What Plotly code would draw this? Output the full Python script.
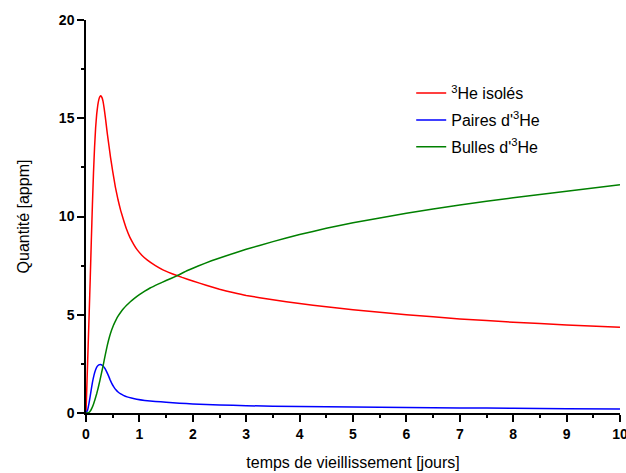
import plotly.graph_objects as go

# temps de vieillissement [jours]
x_iso = [0, 0.02, 0.04, 0.06, 0.08, 0.10, 0.12, 0.14, 0.16, 0.18, 0.20, 0.22, 0.24, 0.26, 0.28,
         0.30, 0.32, 0.34, 0.36, 0.38, 0.40, 0.43, 0.46, 0.50, 0.55, 0.60, 0.65, 0.70, 0.76,
         0.82, 0.89, 0.96, 1.05, 1.15, 1.3, 1.45, 1.6, 1.8, 2, 2.25, 2.5, 2.75, 3, 3.5, 4, 4.5,
         5, 6, 7, 8, 9, 10]
y_iso = [0, 1.7, 3.4, 5.1, 6.9, 8.8, 10.6, 12.2, 13.5, 14.5, 15.2, 15.65, 15.95, 16.1, 16.15,
         16.05, 15.85, 15.5, 15.1, 14.65, 14.2, 13.6, 13.0, 12.3, 11.5, 10.85, 10.3, 9.85, 9.35,
         8.95, 8.6, 8.3, 8.02, 7.78, 7.5, 7.27, 7.1, 6.9, 6.72, 6.5, 6.3, 6.13, 5.98, 5.76, 5.57,
         5.41, 5.26, 5.0, 4.79, 4.62, 4.48, 4.37]

x_paires = [0, 0.03, 0.06, 0.09, 0.12, 0.15, 0.18, 0.21, 0.24, 0.27, 0.30, 0.33, 0.36, 0.39,
            0.42, 0.45, 0.48, 0.52, 0.56, 0.6, 0.65, 0.7, 0.77, 0.85, 0.95, 1.1, 1.3, 1.5, 1.75,
            2, 2.5, 3, 4, 5, 6, 7, 8, 9, 10]
y_paires = [0, 0.15, 0.55, 1.05, 1.55, 1.93, 2.2, 2.37, 2.45, 2.47, 2.44, 2.36, 2.24, 2.08,
            1.9, 1.7, 1.52, 1.33, 1.18, 1.07, 0.97, 0.9, 0.82, 0.76, 0.7, 0.64, 0.59, 0.55, 0.5,
            0.46, 0.41, 0.37, 0.33, 0.3, 0.28, 0.26, 0.24, 0.22, 0.2]

x_bulles = [0, 0.05, 0.08, 0.11, 0.14, 0.17, 0.2, 0.23, 0.26, 0.29, 0.32, 0.36, 0.4, 0.44, 0.48,
            0.52, 0.56, 0.6, 0.65, 0.7, 0.76, 0.83, 0.9, 1.0, 1.1, 1.2, 1.35, 1.5, 1.7, 1.9, 2.1,
            2.35, 2.6, 3, 3.5, 4, 4.5, 5, 6, 7, 8, 9, 10]
y_bulles = [0, 0.02, 0.1, 0.25, 0.45, 0.7, 0.98, 1.3, 1.65, 2.03, 2.4, 2.95, 3.45, 3.88, 4.22,
            4.5, 4.73, 4.93, 5.13, 5.3, 5.48, 5.66, 5.82, 6.02, 6.2, 6.36, 6.56, 6.74, 6.98, 7.25,
            7.48, 7.75, 7.98, 8.33, 8.72, 9.08, 9.4, 9.68, 10.17, 10.59, 10.95, 11.28, 11.61]

x_ticks = list(range(0, 11))
y_ticks = [0, 5, 10, 15, 20]

fig = go.Figure()
fig.add_trace(go.Scatter(x=x_iso, y=y_iso, mode="lines", name="<sup>3</sup>He isolés", legendgroup="a",
                         line=dict(color="#ff0000", width=1.5, shape="spline", smoothing=0.3)))
fig.add_trace(go.Scatter(x=x_paires, y=y_paires, mode="lines", name="Paires d'<sup>3</sup>He", legendgroup="b",
                         line=dict(color="#0000ff", width=1.5, shape="spline", smoothing=0.3)))
fig.add_trace(go.Scatter(x=x_bulles, y=y_bulles, mode="lines", name="Bulles d'<sup>3</sup>He", legendgroup="c",
                         line=dict(color="#008000", width=1.5, shape="spline", smoothing=0.3)))

tick_font = dict(family="Liberation Sans, Arial", size=14, color="black")
title_font = dict(family="Liberation Sans, Arial", size=16, color="black")

fig.update_xaxes(range=[0, 10], tickvals=x_ticks, ticktext=["<b>%d</b>" % v for v in x_ticks],
                 showline=True, linecolor="black", linewidth=1.5, ticklabeloverflow="allow",
                 automargin=False,
                 ticks="outside", ticklen=7, tickwidth=1.5, tickcolor="black", showgrid=False,
                 zeroline=False, tickfont=tick_font,
                 minor=dict(dtick=0.5, ticks="outside", ticklen=3.5, tickwidth=1.5, tickcolor="black"),
                 title=dict(text="temps de vieillissement [jours]", font=title_font, standoff=16))
fig.update_yaxes(range=[0, 20], tickvals=y_ticks, ticktext=["<b>%d</b>" % v for v in y_ticks],
                 showline=True, linecolor="black", linewidth=1.5, automargin=False,
                 ticks="outside", ticklen=7, tickwidth=1.5, tickcolor="black", showgrid=False,
                 zeroline=False, tickfont=tick_font,
                 minor=dict(dtick=2.5, ticks="outside", ticklen=3.5, tickwidth=1.5, tickcolor="black"),
                 title=dict(text="Quantité [appm]", font=title_font, standoff=25))

fig.update_layout(
    width=626, height=473,
    margin=dict(l=86, r=6, t=20, b=60, autoexpand=False),
    plot_bgcolor="white", paper_bgcolor="white",
    font=dict(family="Liberation Sans, Arial", color="black"),
    legend=dict(x=0.609, y=0.857, xanchor="left", yanchor="top", bgcolor="rgba(0,0,0,0)",
                font=dict(family="Liberation Sans, Arial", size=16, color="black"),
                tracegroupgap=3, itemwidth=30),
)

# drop the default 8px body margin so the figure fills the window exactly
fig.write_html("out.html", config={"displayModeBar": False},
               post_script="document.body.style.margin='0';")
